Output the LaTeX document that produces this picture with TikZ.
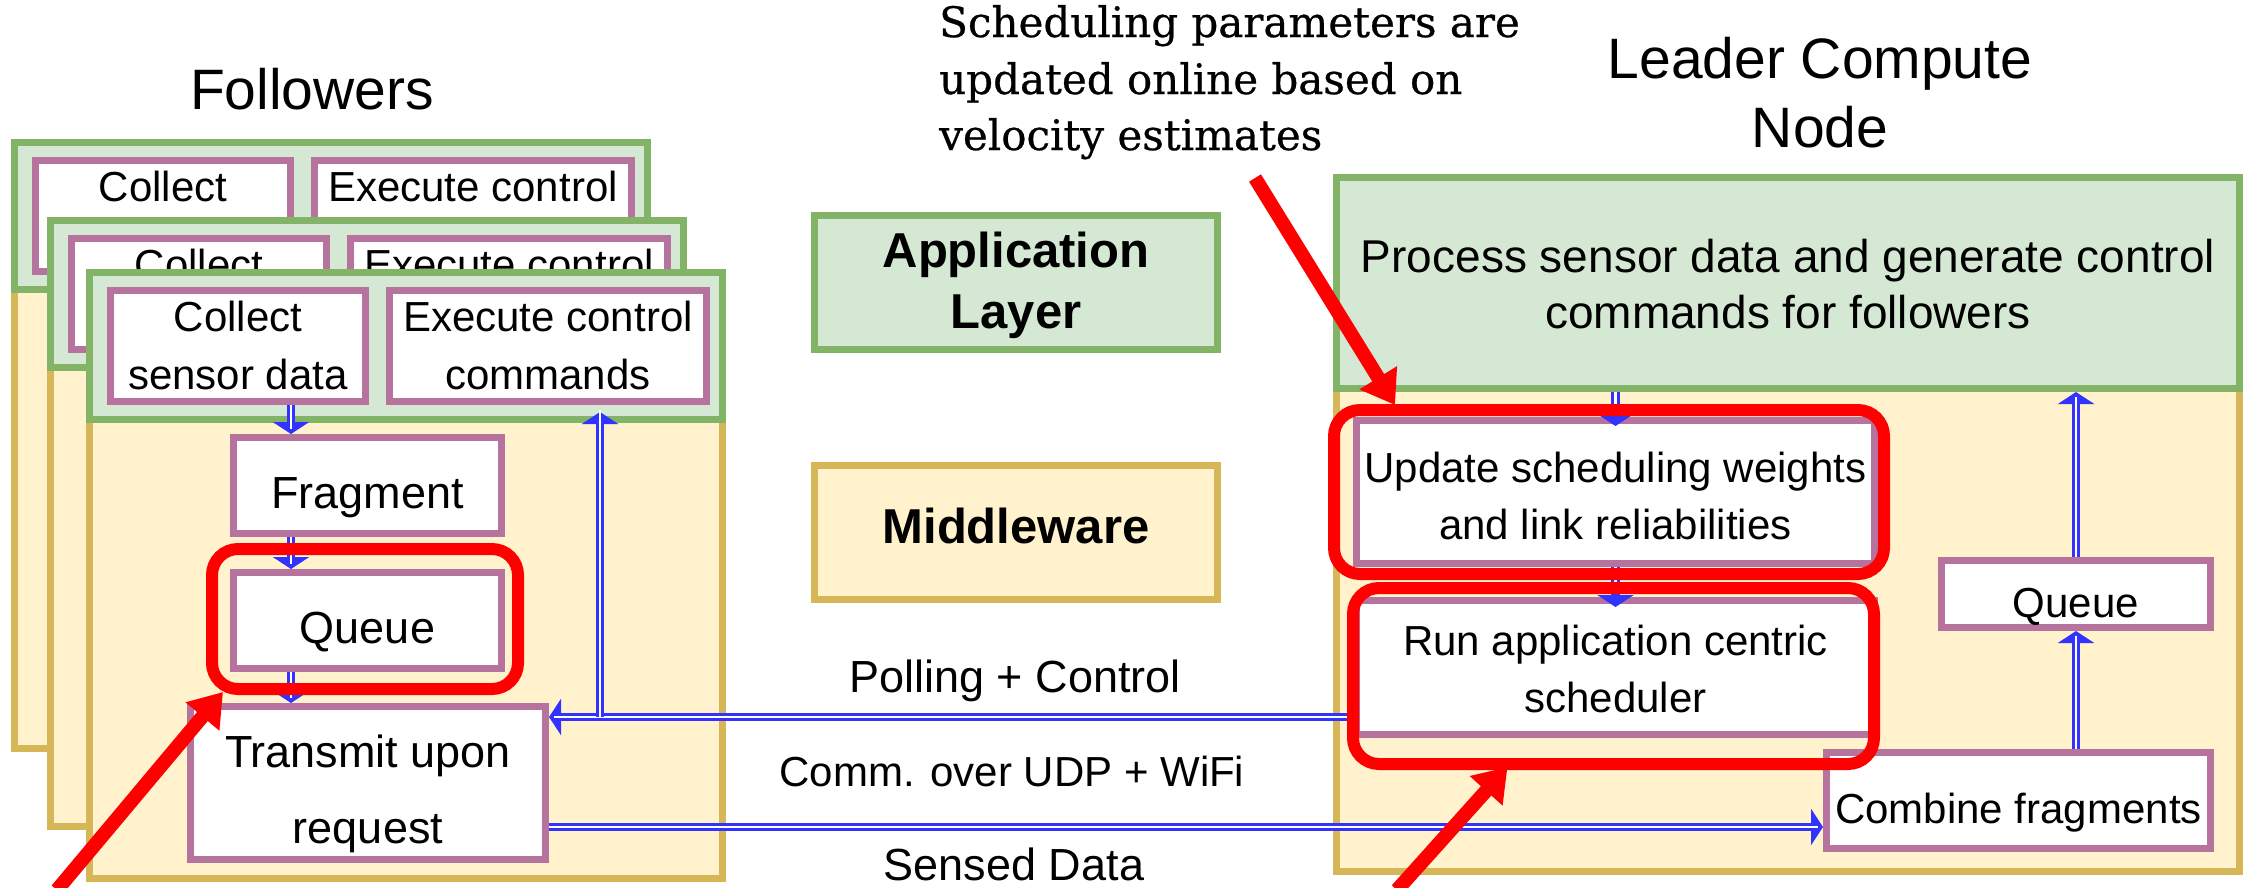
\documentclass[tikz,border=0pt]{standalone}
\usepackage{fontspec}
\setmainfont{Liberation Sans}
\newfontfamily\annfont[FakeBold=0.6]{DejaVu Serif}
\usetikzlibrary{arrows.meta,calc}
\definecolor{gfill}{HTML}{D5E8D4}
\definecolor{gline}{HTML}{82B366}
\definecolor{yfill}{HTML}{FFF2CC}
\definecolor{yline}{HTML}{D6B656}
\definecolor{pline}{HTML}{B5739D}
\definecolor{bblue}{HTML}{3333FF}
\definecolor{rred}{HTML}{FF0000}
\newcommand\followerbase[3]{%
\begin{scope}[shift={(#2,#3)}]
\node[ybox, minimum width=633pt, minimum height=606pt] (#1y) at (320,306.5) {};
\node[gbox, minimum width=633pt, minimum height=147pt] (#1g) at (320,77) {};
\node[pbox, minimum width=255pt, minimum height=111pt] (#1col) at (152,77) {};
\node[pbox, minimum width=317pt, minimum height=111pt] (#1exe) at (462,77) {};
\node[t42] (#1colA) at (152,62) {Collect};
\node[t42] (#1colB) at (152,120) {sensor data};
\node[t42] (#1exeA) at (462,62) {Execute control};
\node[t42] (#1exeB) at (462,120) {commands};
\end{scope}}
\begin{document}
\begin{tikzpicture}[x=1pt,y=-1pt,
  ybox/.style={rectangle, inner sep=0pt, draw=yline, fill=yfill, line width=7pt},
  gbox/.style={rectangle, inner sep=0pt, draw=gline, fill=gfill, line width=7pt},
  pbox/.style={rectangle, inner sep=0pt, draw=pline, fill=white, line width=7pt},
  rbox/.style={rectangle, inner sep=0pt, draw=rred, line width=12pt, rounded corners=26pt},
  t42/.style={anchor=base, inner sep=0pt, font=\fontsize{42}{50}\selectfont},
  t45/.style={anchor=base, inner sep=0pt, font=\fontsize{45}{54}\selectfont},
  t46/.style={anchor=base, inner sep=0pt, font=\fontsize{46}{55}\selectfont},
  t57/.style={anchor=base, inner sep=0pt, font=\fontsize{57}{68}\selectfont},
  b49/.style={anchor=base, inner sep=0pt, font=\fontsize{49}{59}\selectfont\bfseries},
  ann/.style={anchor=base west, inner sep=0pt, font=\annfont\fontsize{42}{50}\selectfont},
  barrow/.style={draw=bblue, line width=8.5pt,
                 -{Triangle[width=36pt,length=12pt]},
                 postaction={draw=white, line width=2.3pt, -, shorten >=5pt, shorten <=0pt}},
  rarrow/.style={draw=rred, line width=14pt, -{Triangle[width=42pt,length=32pt]}}
]
\useasboundingbox[fill=white] (0,0) rectangle (2247,887);

% ---------- followers ----------
\followerbase{b1}{11}{139}
\followerbase{b2}{47}{217}
\followerbase{f3}{86}{269}
\node[pbox, minimum width=268pt, minimum height=96pt] (ffrag) at (367.5,485.5) {};
\node[t45] (ffragT) at (367.5,508) {Fragment};
\node[pbox, minimum width=268pt, minimum height=96pt] (fq) at (367.5,620.5) {};
\node[t45] (fqT) at (367.5,643) {Queue};
\node[pbox, minimum width=355pt, minimum height=153pt] (ftx) at (368,783) {};
\node[t45] (ftxA) at (368,767) {Transmit upon};
\node[t45] (ftxB) at (368,843) {request};
\node[t57] (foll) at (312,109) {Followers};

% ---------- middle legend ----------
\node[gbox, minimum width=403pt, minimum height=134pt] (app) at (1016,282.5) {};
\node[b49] (appA) at (1016,267) {Application};
\node[b49] (appB) at (1016,328) {Layer};
\node[ybox, minimum width=403pt, minimum height=134pt] (mid) at (1016,532.5) {};
\node[b49] (midT) at (1016,543) {Middleware};

% ---------- leader ----------
\node[ybox, minimum width=903pt, minimum height=694pt] (ly) at (1788,524.5) {};
\node[gbox, minimum width=903pt, minimum height=211pt] (lg) at (1788,283) {};
\node[t46] (lgA) at (1788,272) {Process sensor data and generate control};
\node[t46] (lgB) at (1788,328) {commands for followers};
\node[pbox, minimum width=518pt, minimum height=143pt] (lupd) at (1615.5,492) {};
\node[t42] (lupdA) at (1615.5,482) {Update scheduling weights};
\node[t42] (lupdB) at (1615.5,539) {and link reliabilities};
\node[pbox, minimum width=518pt, minimum height=134pt] (lrun) at (1615.5,667.5) {};
\node[t42] (lrunA) at (1615.5,655) {Run application centric};
\node[t42] (lrunB) at (1615.5,712) {scheduler};
\node[pbox, minimum width=269pt, minimum height=67pt] (lq) at (2076,594) {};
\node[t42] (lqT) at (2076,617) {Queue};
\node[pbox, minimum width=384pt, minimum height=96pt] (lcomb) at (2018.5,800.5) {};
\node[t42] (lcombT) at (2018.5,823) {Combine fragments};
\node[t57] (ldA) at (1820,78) {Leader Compute};
\node[t57] (ldB) at (1820,147) {Node};

% ---------- labels ----------
\node[t45] (poll) at (1015,692) {Polling + Control};
\node[t42] (comm) at (1012,786) {Comm. over UDP + WiFi};
\node[t45] (sens) at (1014,880) {Sensed Data};
\node[ann] (annA) at (939,37) {Scheduling parameters are};
\node[ann] (annB) at (939,94) {updated online based on};
\node[ann] (annC) at (939,150) {velocity estimates};

% ---------- blue connectors ----------
\coordinate (fx) at (291,0);
\coordinate (py) at (0,717);
\coordinate (ux) at (600,0);
\coordinate (sy) at (0,827);
\draw[barrow] (f3col.south -| fx) -- (ffrag.north -| fx);
\draw[barrow] (ffrag.south -| fx) -- (fq.north -| fx);
\draw[barrow] (fq.south -| fx) -- (ftx.north -| fx);
\draw[barrow] (lrun.west |- py) -- (ftx.east |- py);
\draw[barrow, shorten >=7pt] (ux |- py) -- (f3exe.south -| ux);
\draw[barrow] (ftx.east |- sy) -- (lcomb.west |- sy);
\draw[barrow, shorten >=-9pt] (lupd.north |- lg.south) -- (lupd.north);
\draw[barrow, shorten >=-10pt] (lupd.south) -- (lrun.north);
\draw[barrow] (lq.south |- lcomb.north) -- (lq.south);
\draw[barrow] (lq.north) -- (lq.north |- lg.south);

% ---------- red highlights ----------
\node[rbox, minimum width=306pt, minimum height=140pt] (r0) at (365,619) {};
\node[rbox, minimum width=550pt, minimum height=164pt] (r1) at (1609,492) {};
\node[rbox, minimum width=521pt, minimum height=176pt] (r2) at (1613.5,676) {};
\coordinate (ra1) at (57,890);
\coordinate (ra2) at (1255,178);
\coordinate (ra3) at (1397,890);
\draw[rarrow] (ra1) -- ($(r0.south west)+(17,-3)$);
\draw[rarrow] (ra2) -- ($(r1.north west)+(67,1)$);
\draw[rarrow] (ra3) -- ($(r2.south)+(-106,-3)$);
\end{tikzpicture}
\end{document}
